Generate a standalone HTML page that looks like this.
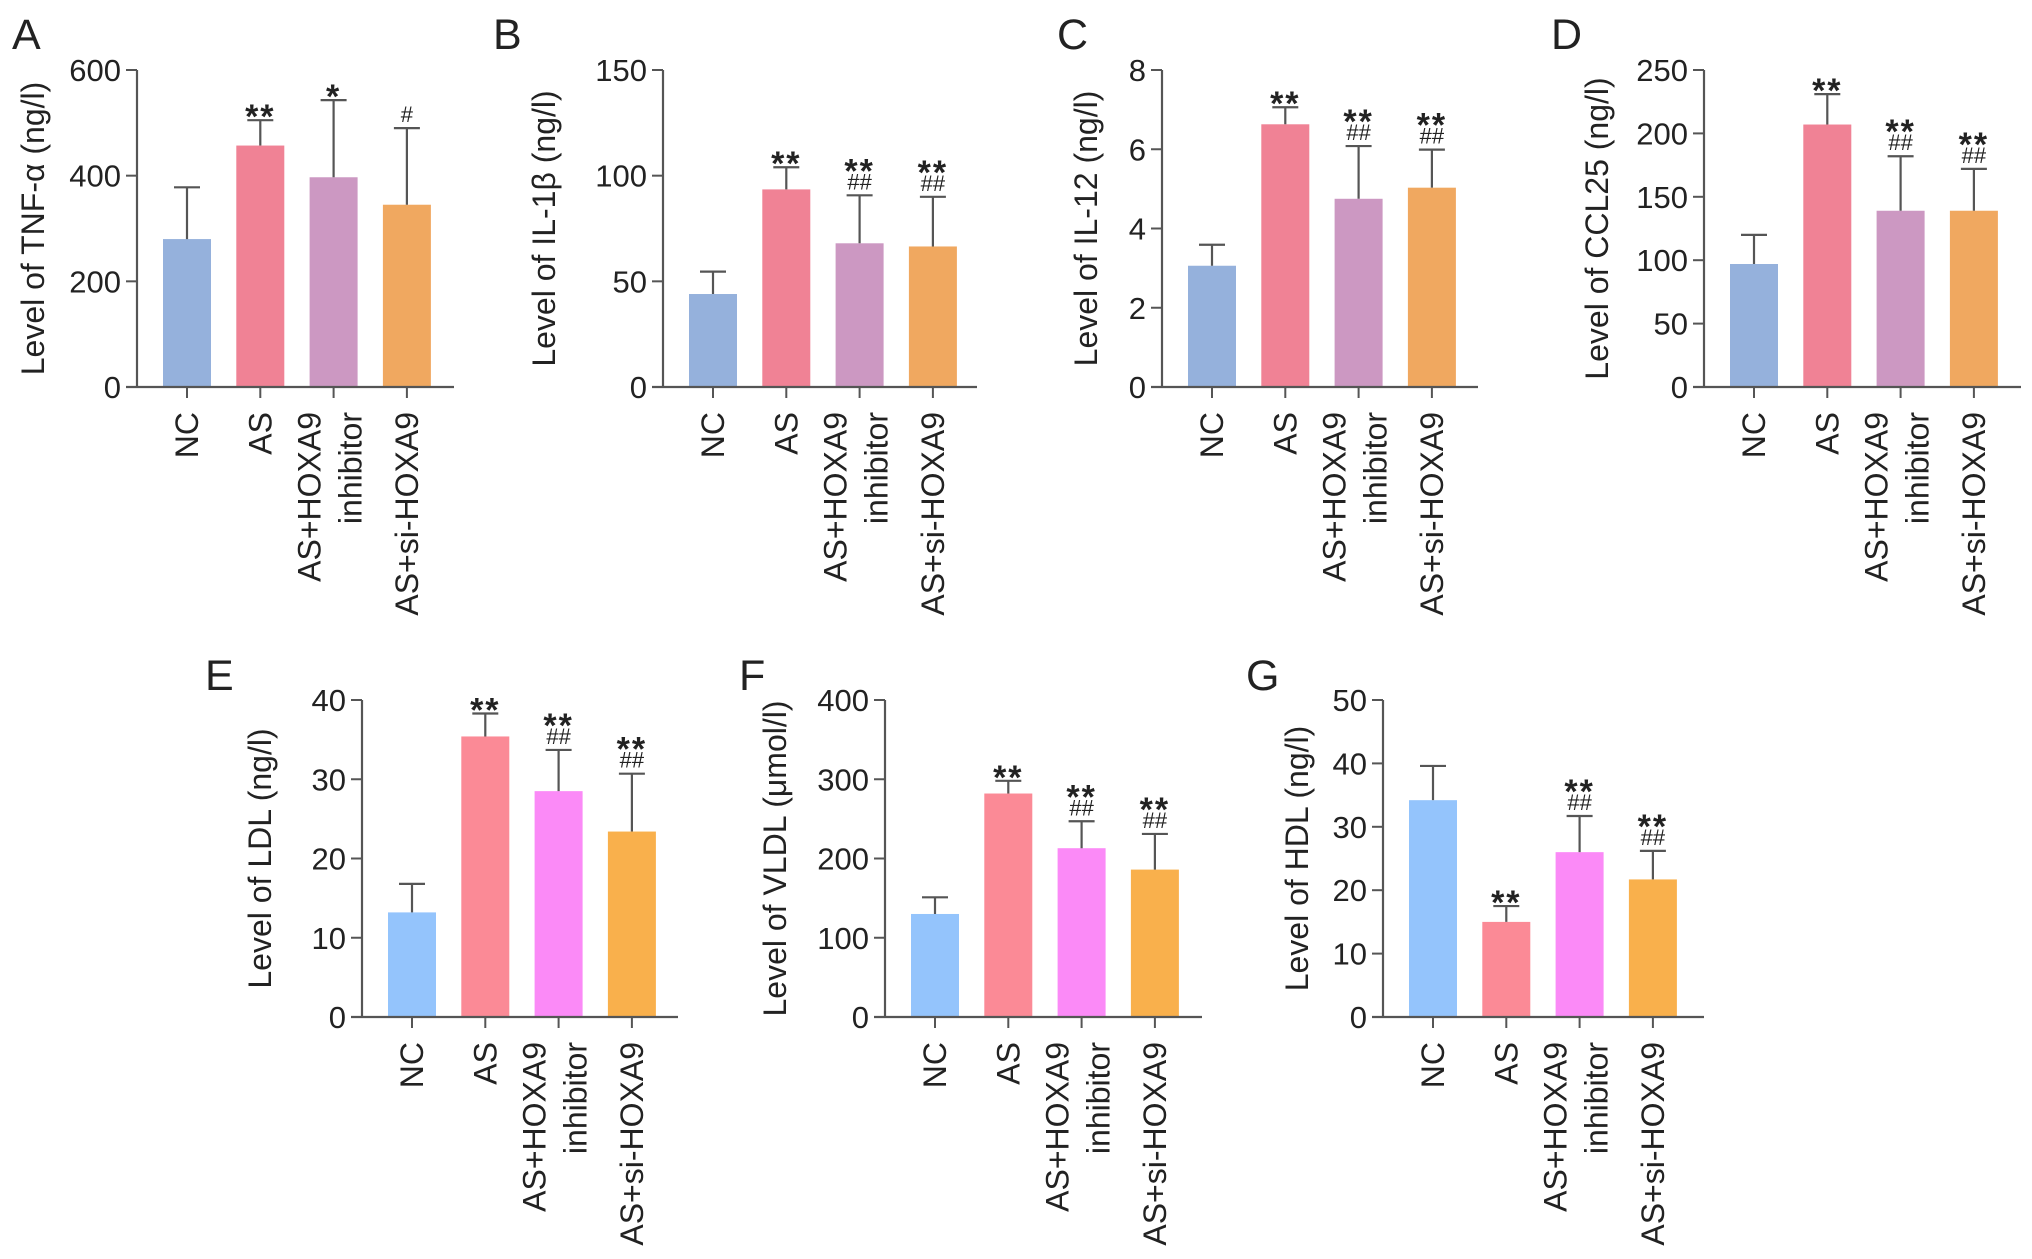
<!DOCTYPE html>
<html><head><meta charset="utf-8"><style>
html,body{margin:0;padding:0;background:#fff}
svg{display:block}
text{font-family:"Liberation Sans",sans-serif;fill:#222}
</style></head><body>
<svg id="fig" width="2032" height="1259" viewBox="0 0 2032 1259" xmlns="http://www.w3.org/2000/svg"></svg>
<script>
const categories=["NC","AS","AS+HOXA9|inhibitor","AS+si-HOXA9"];
const valsA=[280,457,397,345]; const errA=[378,505,543,490]; const sigA=[["",""],["**",""],["*",""],["","#"]];
const valsB=[44,93.5,68,66.5]; const errB=[54.6,104,90.7,90]; const sigB=[["",""],["**",""],["**","##"],["**","##"]];
const valsC=[3.06,6.63,4.75,5.03]; const errC=[3.59,7.06,6.08,5.99]; const sigC=[["",""],["**",""],["**","##"],["**","##"]];
const valsD=[97,207,139,139]; const errD=[120,231,182,172]; const sigD=[["",""],["**",""],["**","##"],["**","##"]];
const valsE=[13.2,35.4,28.5,23.4]; const errE=[16.8,38.3,33.7,30.7]; const sigE=[["",""],["**",""],["**","##"],["**","##"]];
const valsF=[130,282,213,186]; const errF=[151,298,247,231]; const sigF=[["",""],["**",""],["**","##"],["**","##"]];
const valsG=[34.2,15.0,26,21.7]; const errG=[39.6,17.5,31.7,26.2]; const sigG=[["",""],["**",""],["**","##"],["**","##"]];
const ticksA=[0,200,400,600], ticksB=[0,50,100,150], ticksC=[0,2,4,6,8], ticksD=[0,50,100,150,200,250];
const ticksE=[0,10,20,30,40], ticksF=[0,100,200,300,400], ticksG=[0,10,20,30,40,50];
const topColors=["#95b1dc","#f08295","#cc98c2","#f0a860"];
const botColors=["#94c4fc","#fb8a96","#fb8af7","#f9b04c"];

const NS="http://www.w3.org/2000/svg";
const svg=document.getElementById('fig');
function mk(tag,attrs,parent,txt){const e=document.createElementNS(NS,tag);for(const k in attrs)e.setAttribute(k,attrs[k]);if(txt!==undefined)e.textContent=txt;(parent||svg).appendChild(e);return e;}

const T1=70,B1=387,T2=700,B2=1017;
const panels=[
 {id:"a",letter:"A",lx:12,ly:49,ax:137,end:454,top:T1,bot:B1,max:600,ticks:ticksA,vals:valsA,err:errA,sig:sigA,col:topColors,title:"Level of TNF-α (ng/l)",tx:33},
 {id:"b",letter:"B",lx:493,ly:49,ax:663,end:977,top:T1,bot:B1,max:150,ticks:ticksB,vals:valsB,err:errB,sig:sigB,col:topColors,title:"Level of IL-1β (ng/l)",tx:544},
 {id:"c",letter:"C",lx:1057,ly:49,ax:1162,end:1478,top:T1,bot:B1,max:8,ticks:ticksC,vals:valsC,err:errC,sig:sigC,col:topColors,title:"Level of IL-12 (ng/l)",tx:1086},
 {id:"d",letter:"D",lx:1551,ly:49,ax:1704,end:2021,top:T1,bot:B1,max:250,ticks:ticksD,vals:valsD,err:errD,sig:sigD,col:topColors,title:"Level of CCL25 (ng/l)",tx:1597},
 {id:"e",letter:"E",lx:205,ly:690,ax:362,end:678,top:T2,bot:B2,max:40,ticks:ticksE,vals:valsE,err:errE,sig:sigE,col:botColors,title:"Level of LDL (ng/l)",tx:260},
 {id:"f",letter:"F",lx:739,ly:690,ax:885,end:1202,top:T2,bot:B2,max:400,ticks:ticksF,vals:valsF,err:errF,sig:sigF,col:botColors,title:"Level of VLDL (μmol/l)",tx:775},
 {id:"g",letter:"G",lx:1246,ly:690,ax:1383,end:1704,top:T2,bot:B2,max:50,ticks:ticksG,vals:valsG,err:errG,sig:sigG,col:botColors,title:"Level of HDL (ng/l)",tx:1297}
];

panels.forEach(p=>{
  const g=mk('g',{});
  
  
  const y=v=>p.bot-(v/p.max)*(p.bot-p.top);
  const xc=i=>p.ax+50+i*73.3;
  const L=mk('text',{x:p.lx,y:p.ly,'font-size':43},g,p.letter);
  
  
  const T=mk('text',{x:0,y:0,'font-size':32,'text-anchor':'middle',transform:`translate(${p.tx+11},${(p.top+p.bot)/2}) rotate(-90)`},g,p.title);
  
  
  p.vals.forEach((v,i)=>{
    const r=mk('rect',{x:xc(i)-24,y:y(v),width:48,height:p.bot-y(v),fill:p.col[i]},g);
    
    
    const e=p.err[i];
    const eb=mk('path',{d:`M${xc(i)},${y(v)}V${y(e)}M${xc(i)-13},${y(e)}H${xc(i)+13}`,stroke:'#555','stroke-width':2.2,fill:'none'},g);
    
    
    const s=p.sig[i];
    const cap=y(e);
    if(s[1]){const h=mk('text',{x:xc(i),y:cap-6,'font-size':22,'text-anchor':'middle'},g,s[1]);}
    if(s[0]){const a=mk('text',{x:xc(i),y:s[1]?cap-13:cap+8,'font-size':34,'font-weight':'bold','text-anchor':'middle','letter-spacing':'2'},g,s[0]);}
    mk('line',{x1:xc(i),x2:xc(i),y1:p.bot,y2:p.bot+11,stroke:'#555','stroke-width':2},g);
    const parts=categories[i].split('|');
    if(parts.length===1){
      const t=mk('text',{x:0,y:0,'font-size':32,'text-anchor':'end',transform:`translate(${xc(i)+11},${p.bot+25}) rotate(-90)`},g,parts[0]);
      
      
    } else {
      const t1=mk('text',{x:0,y:0,'font-size':32,'text-anchor':'end',transform:`translate(${xc(i)-13},${p.bot+25}) rotate(-90)`},g,parts[0]);
      
      
      const t2=mk('text',{x:0,y:0,'font-size':32,'text-anchor':'end',transform:`translate(${xc(i)+28},${p.bot+25}) rotate(-90)`},g,parts[1]);
      
      
    }
  });
  const ya=mk('line',{x1:p.ax,x2:p.ax,y1:p.top,y2:p.bot,stroke:'#555','stroke-width':2.2},g);
  
  
  const xa=mk('line',{x1:p.ax-11,x2:p.end,y1:p.bot,y2:p.bot,stroke:'#555','stroke-width':2.2},g);
  
  
  p.ticks.forEach(t=>{
    mk('line',{x1:p.ax-11,x2:p.ax,y1:y(t),y2:y(t),stroke:'#555','stroke-width':2},g);
    const tl=mk('text',{x:p.ax-16,y:y(t)+11,'font-size':31,'text-anchor':'end'},g,String(t));
    
    
  });
});
</script>
</body></html>
